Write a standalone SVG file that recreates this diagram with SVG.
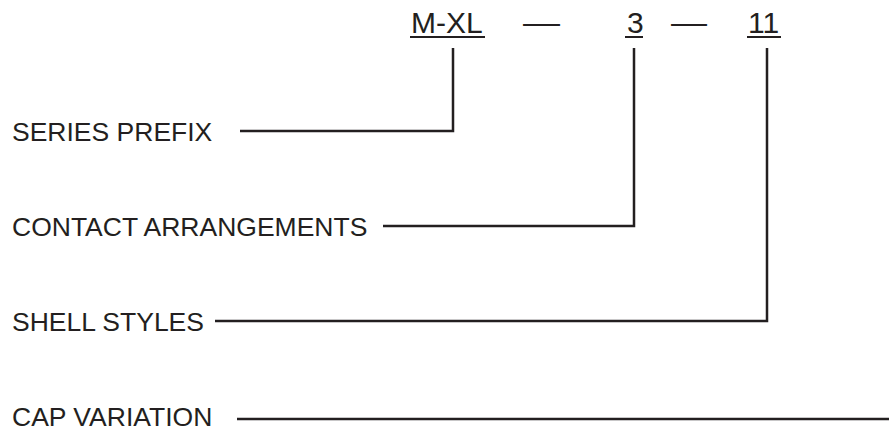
<svg xmlns="http://www.w3.org/2000/svg" width="889" height="434" viewBox="0 0 889 434">
<style>
.t{font-family:"Liberation Sans",Arial,sans-serif;fill:#231f20}
.top{font-size:30px}
.lab{font-size:26.5px}
.ul{stroke:#231f20;stroke-width:2}
.c{fill:none;stroke:#231f20;stroke-width:2.5;stroke-linejoin:miter}
</style>
<rect width="889" height="434" fill="#ffffff"/>
<g id="part-number">
<text class="t top" x="411" y="33">M-XL</text>
<line class="ul" x1="410" y1="37" x2="485" y2="37"/>
<text class="t top" x="523" y="33" textLength="37" lengthAdjust="spacingAndGlyphs">—</text>
<text class="t top" x="627" y="33">3</text>
<line class="ul" x1="625" y1="37" x2="643" y2="37"/>
<text class="t top" x="671" y="33" textLength="36" lengthAdjust="spacingAndGlyphs">—</text>
<text class="t top" x="748" y="33">11</text>
<line class="ul" x1="747" y1="37" x2="781" y2="37"/>
</g>
<g id="series-prefix"><text class="t lab" x="12" y="141">SERIES PREFIX</text></g>
<g id="contact-arrangements"><text class="t lab" x="12" y="236">CONTACT ARRANGEMENTS</text></g>
<g id="shell-styles"><text class="t lab" x="12" y="331">SHELL STYLES</text></g>
<g id="cap-variation"><text class="t lab" x="12" y="426">CAP VARIATION</text></g>
<g id="connectors">
<polyline class="c" points="240,131 453,131 453,48"/>
<polyline class="c" points="383,226 634,226 634,48"/>
<polyline class="c" points="215,321 767,321 767,48"/>
<line class="c" x1="237" y1="419" x2="889" y2="419"/>
</g>
</svg>
